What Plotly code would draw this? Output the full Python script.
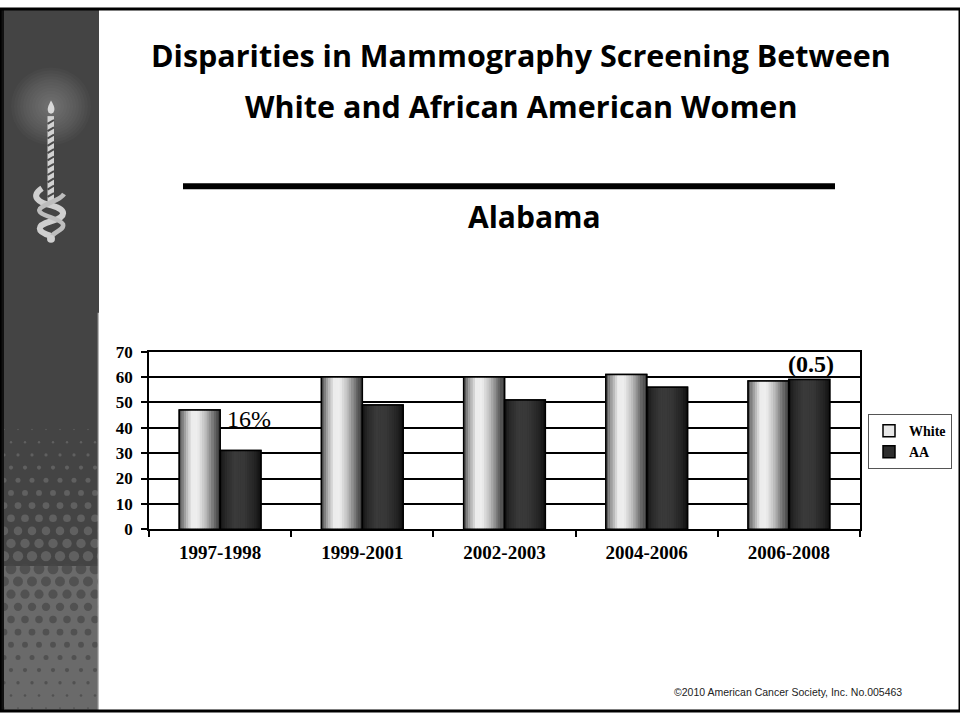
import numpy as np
import plotly.graph_objects as go

# ---------------- data ----------------
categories = ["1997-1998", "1999-2001", "2002-2003", "2004-2006", "2006-2008"]
white_pct = [47, 60, 60, 61, 58.5]
aa_pct = [31, 49, 51, 56, 59]
y_ticks = [0, 10, 20, 30, 40, 50, 60, 70]
series_names = ["White", "AA"]
note_first = "16%"
note_last = "(0.5)"

W, H = 960, 721


def px(x):
    return x / W


def py(y):
    return 1 - y / H


BW = 0.287      # one bar width in category units
N = 18          # strips per bar for cylinder shading


def interp_gray(t, pts):
    xs = [p[0] for p in pts]
    vs = [p[1] for p in pts]
    v = int(round(np.interp(t, xs, vs)))
    return f"rgb({v},{v},{v})"


white_profile = [(0, 75), (0.12, 150), (0.3, 236), (0.45, 238), (0.65, 185), (0.85, 105), (1.0, 55)]
aa_profile = [(0, 18), (0.12, 40), (0.35, 58), (0.6, 55), (0.85, 35), (1.0, 15)]

fig = go.Figure()

# legend carriers (hidden under the shaded strips)
fig.add_trace(go.Bar(x=categories, y=white_pct, name=series_names[0], width=BW, offset=-BW,
                     marker=dict(color="#e8e8e8", line=dict(color="black", width=1.5)),
                     hoverinfo="skip"))
fig.add_trace(go.Bar(x=categories, y=aa_pct, name=series_names[1], width=BW, offset=0,
                     marker=dict(color="#2e2e2e", line=dict(color="black", width=1.5)),
                     hoverinfo="skip"))

# shaded strips
sw = BW / N
for vals, prof, start in [(white_pct, white_profile, -BW), (aa_pct, aa_profile, 0)]:
    for k in range(N):
        t = (k + 0.5) / N
        wk = sw * 1.15 if k < N - 1 else sw
        fig.add_trace(go.Bar(x=categories, y=vals, width=wk, offset=start + k * sw,
                             marker=dict(color=interp_gray(t, prof), line=dict(width=0)),
                             showlegend=False, hoverinfo="skip"))

# outlines
for vals, start in [(white_pct, -BW), (aa_pct, 0)]:
    fig.add_trace(go.Bar(x=categories, y=vals, width=BW, offset=start,
                         marker=dict(color="rgba(0,0,0,0)", line=dict(color="black", width=1.5)),
                         showlegend=False, hoverinfo="skip"))

# ---------------- sidebar halftone dots (decoration) ----------------
dx, dyy = [], []
dsize, dcol = [], []
row = 0
for yy in np.arange(432, 728, 13.0):
    off = 7 if row % 2 else 0
    for xx in np.arange(4 + off, 104, 14.0):
        if yy < 572:
            f = (yy - 432) / (572 - 432)
            s = 1.5 + 9.5 * f
            c = "#6c6c6c"
        else:
            f = (yy - 572) / (721 - 572)
            s = 11 - 9.5 * f
            c = "#474747"
        dx.append(xx)
        dyy.append(yy)
        dsize.append(s)
        dcol.append(c)
    row += 1

fig.add_trace(go.Scatter(x=dx, y=dyy, mode="markers", xaxis="x2", yaxis="y2",
                         marker=dict(size=dsize, color=dcol, line=dict(width=0)),
                         showlegend=False, hoverinfo="skip"))

shapes = []
# sidebar background
shapes.append(dict(type="rect", xref="x2", yref="y2", x0=0, x1=99, y0=0, y1=721,
                   fillcolor="#444444", line=dict(width=0), layer="below"))
shapes.append(dict(type="rect", xref="x2", yref="y2", x0=0, x1=99, y0=572, y1=721,
                   fillcolor="#6a6a6a", line=dict(width=0), layer="below"))
# glow (soft)
for r in range(40, 4, -3):
    shapes.append(dict(type="circle", xref="x2", yref="y2", x0=51 - r, x1=51 + r,
                       y0=100 - r, y1=100 + r, fillcolor="white", opacity=0.025,
                       line=dict(width=0), layer="below"))
# left dark edge and sidebar right line
shapes.append(dict(type="rect", xref="x2", yref="y2", x0=0, x1=4, y0=0, y1=721,
                   fillcolor="#111111", line=dict(width=0), layer="above"))
shapes.append(dict(type="line", xref="x2", yref="y2", x0=98.3, x1=98.3, y0=312, y1=721,
                   line=dict(color="#c4c4c4", width=1.2), layer="above"))
# candle
shapes.append(dict(type="rect", xref="x2", yref="y2", x0=47.5, x1=54, y0=110, y1=200,
                   fillcolor="#d2d2d2", line=dict(width=0), layer="above"))
for ys in np.arange(114, 198, 7.5):
    shapes.append(dict(type="line", xref="x2", yref="y2", x0=47.5, x1=54, y0=ys + 4, y1=ys,
                       line=dict(color="#4a4a4a", width=2), layer="above"))
# flame
shapes.append(dict(type="path", xref="x2", yref="y2",
                   path="M 51,94 C 54,99 55.5,103 53.5,106 C 52,108 50,108 48.5,106 C 46.5,103 48.5,99 51,94 Z",
                   fillcolor="#d8d8d8", line=dict(width=0), layer="above"))
# snake
shapes.append(dict(type="path", xref="x2", yref="y2",
                   path="M 42,184 C 30,192 38,199 52,202 C 67,206 67,214 51,218 C 36,222 36,229 51,233",
                   line=dict(color="#cfcfcf", width=6), layer="above"))
shapes.append(dict(type="path", xref="x2", yref="y2",
                   path="M 64,190 C 60,197 46,199 40,205 C 35,212 60,214 63,221 C 65,228 50,229 51,237",
                   line=dict(color="#bdbdbd", width=4.5), layer="above"))
shapes.append(dict(type="circle", xref="x2", yref="y2", x0=47, x1=55, y0=232, y1=240,
                   fillcolor="#cfcfcf", line=dict(width=0), layer="above"))

# title rule
shapes.append(dict(type="line", xref="paper", yref="paper", x0=px(183), x1=px(835),
                   y0=py(182), y1=py(182), line=dict(color="black", width=6)))
# page border
shapes.append(dict(type="rect", xref="paper", yref="paper", x0=0, x1=1, y0=0, y1=1,
                   line=dict(color="black", width=3), fillcolor="rgba(0,0,0,0)"))

title_font = dict(family="Open Sans", size=30.5, color="black", weight="bold")
annotations = [
    dict(text="Disparities in Mammography Screening Between", x=px(521), y=py(47),
         xref="paper", yref="paper", showarrow=False, font=title_font,
         xanchor="center", yanchor="middle"),
    dict(text="White and African American Women", x=px(521), y=py(100),
         xref="paper", yref="paper", showarrow=False, font=title_font,
         xanchor="center", yanchor="middle"),
    dict(text="Alabama", x=px(534), y=py(213), xref="paper", yref="paper", showarrow=False,
         font=dict(family="Open Sans", size=30, color="black", weight="bold"),
         xanchor="center", yanchor="middle"),
    dict(text=note_first, x=categories[0], xshift=29, y=43.3, xref="x", yref="y",
         showarrow=False, font=dict(family="Liberation Serif", size=24, color="black"),
         xanchor="center", yanchor="middle"),
    dict(text=note_last, x=categories[-1], xshift=22, y=65.3, xref="x", yref="y",
         showarrow=False, font=dict(family="Liberation Serif", size=24, color="black", weight="bold"),
         xanchor="center", yanchor="middle"),
    dict(text="©2010 American Cancer Society, Inc. No.005463", x=px(788), y=py(701),
         xref="paper", yref="paper", showarrow=False,
         font=dict(family="Liberation Sans", size=10.5, color="#222222"),
         xanchor="center", yanchor="middle"),
]

serif_bold = dict(family="Liberation Serif", color="black", weight="bold")

fig.update_layout(
    width=W, height=H,
    margin=dict(l=0, r=0, t=0, b=0),
    paper_bgcolor="white",
    plot_bgcolor="rgba(0,0,0,0)",
    barmode="overlay",
    hovermode=False,
    shapes=shapes,
    annotations=annotations,
    xaxis=dict(domain=[px(149), px(860)], type="category", tickson="boundaries",
               ticks="outside", ticklen=6, tickcolor="black", tickwidth=1.5,
               showline=True, linecolor="black", linewidth=1.5, mirror=True,
               showgrid=False, tickfont=dict(size=19, **serif_bold), ticklabelstandoff=5,
               anchor="y", fixedrange=True),
    yaxis=dict(domain=[py(534.3), py(352)], range=[0, 70], tickvals=y_ticks,
               ticks="outside", ticklen=6, tickcolor="black", tickwidth=1.5,
               showline=True, linecolor="black", linewidth=1.5, mirror=True,
               showgrid=True, gridcolor="black", gridwidth=1.5, zeroline=False,
               tickfont=dict(size=17, **serif_bold), ticklabelstandoff=5,
               anchor="x", fixedrange=True),
    xaxis2=dict(domain=[0, px(99)], range=[0, 99], visible=False, anchor="y2", fixedrange=True),
    yaxis2=dict(domain=[0, 1], range=[721, 0], visible=False, anchor="x2", fixedrange=True),
    legend=dict(x=px(868), y=py(416), xanchor="left", yanchor="top",
                bgcolor="white", bordercolor="#555555", borderwidth=1,
                font=dict(size=14, **serif_bold), itemwidth=30, traceorder="normal"),
    showlegend=True,
)

css_fix = (
    "document.documentElement.style.margin='0';"
    "document.documentElement.style.padding='0';"
    "document.documentElement.style.overflow='hidden';"
    "document.body.style.margin='0';"
    "document.body.style.padding='0';"
    "document.body.style.overflow='hidden';"
    "var gd0=document.getElementById('{plot_id}');"
    "gd0.style.position='fixed';gd0.style.top='0px';gd0.style.left='0px';"
)

fig.write_html("out.html", config={"displayModeBar": False}, post_script=css_fix)
